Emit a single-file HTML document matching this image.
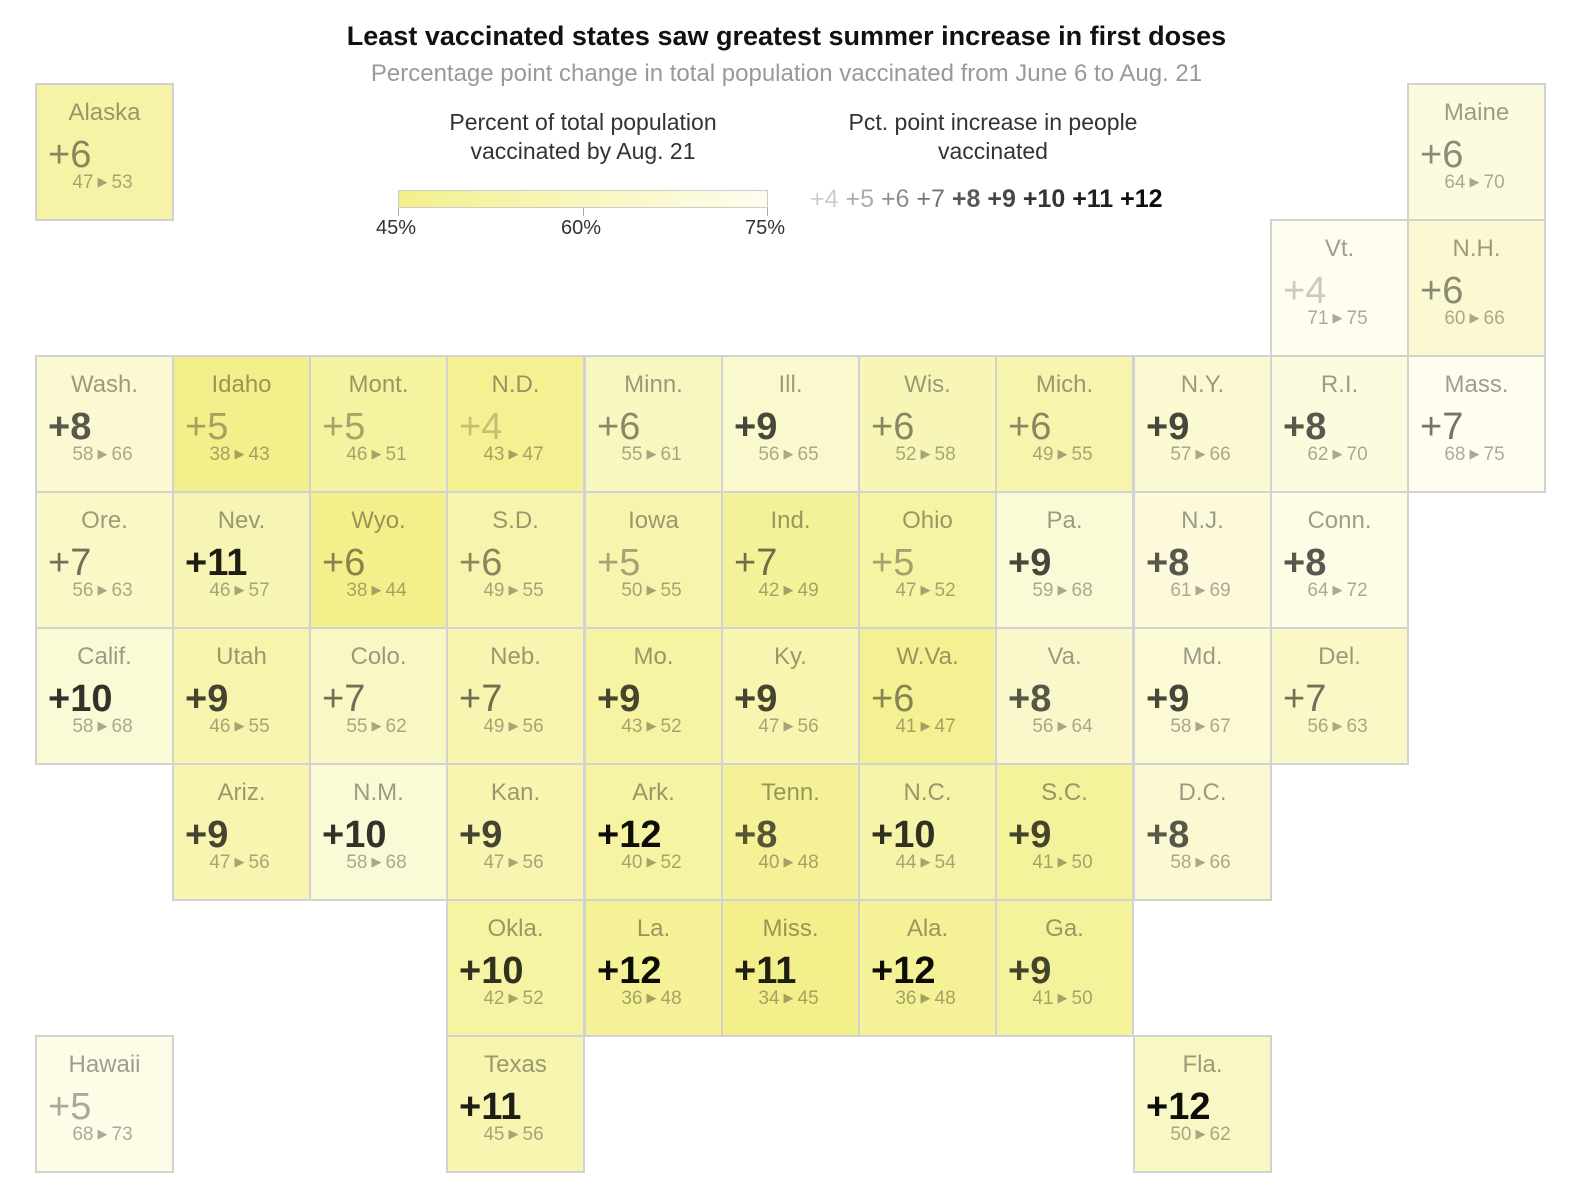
<!DOCTYPE html>
<html><head><meta charset="utf-8"><style>
body{margin:0;background:#fff;width:1573px;height:1200px;position:relative;overflow:hidden;font-family:"Liberation Sans",sans-serif}
.t{position:absolute;left:0;width:1573px;text-align:center}
.c{position:absolute;width:139px;height:138px;border:2px solid #d2d2d2;box-sizing:border-box}
.n{position:absolute;left:0;right:0;top:14px;text-align:center;font-size:24px;color:rgba(0,0,0,0.38);white-space:nowrap}
.v{position:absolute;left:11px;top:48px;font-size:38px;line-height:44px;white-space:nowrap}
.r{position:absolute;left:-4px;right:0;top:87px;text-align:center;font-size:19px;color:rgba(0,0,0,0.33);white-space:nowrap}
.r span{font-size:13px;vertical-align:2px;margin:0 4px}
.i4{color:rgba(0,0,0,0.2)}.i5{color:rgba(0,0,0,0.33)}.i6{color:rgba(0,0,0,0.45)}.i7{color:rgba(0,0,0,0.55)}
.i8{color:rgba(0,0,0,0.65);font-weight:bold}.i9{color:rgba(0,0,0,0.72);font-weight:bold}.i10{color:rgba(0,0,0,0.8);font-weight:bold}.i11{color:rgba(0,0,0,0.88);font-weight:bold}.i12{color:rgba(0,0,0,0.95);font-weight:bold}
.lg{position:absolute;text-align:center;font-size:23px;line-height:29px;color:#333}
.tk{position:absolute;top:217px;font-size:20px;color:#333}
</style></head><body>
<div class="t" style="top:21px;font-size:27px;font-weight:bold;color:#111">Least vaccinated states saw greatest summer increase in first doses</div>
<div class="t" style="top:60px;font-size:24px;color:#999">Percentage point change in total population vaccinated from June 6 to Aug. 21</div>
<div class="lg" style="left:403px;width:360px;top:108px">Percent of total population<br>vaccinated by Aug. 21</div>
<div class="lg" style="left:813px;width:360px;top:108px">Pct. point increase in people<br>vaccinated</div>
<div style="position:absolute;left:398px;top:190px;width:370px;height:18px;border:1px solid #ccc;box-sizing:border-box;background:linear-gradient(to right,#f3f08c,#fefdee)"></div>
<div style="position:absolute;left:398px;top:208px;width:1px;height:8px;background:#aaa"></div>
<div style="position:absolute;left:583px;top:208px;width:1px;height:8px;background:#aaa"></div>
<div style="position:absolute;left:767px;top:208px;width:1px;height:8px;background:#aaa"></div>
<div class="tk" style="left:376px">45%</div><div class="tk" style="left:561px">60%</div><div class="tk" style="left:745px">75%</div>
<div style="position:absolute;left:810px;top:185px;font-size:25px;white-space:nowrap"><span class="i4">+4</span> <span class="i5">+5</span> <span class="i6">+6</span> <span class="i7">+7</span> <span class="i8">+8</span> <span class="i9">+9</span> <span class="i10">+10</span> <span class="i11">+11</span> <span class="i12">+12</span></div>

<div class="c" style="left:35px;top:83px;background:rgb(246,243,166)"><div class="n">Alaska</div><div class="v i6">+6</div><div class="r">47<span>▶</span>53</div></div>
<div class="c" style="left:1407px;top:83px;background:rgb(252,251,222)"><div class="n">Maine</div><div class="v i6">+6</div><div class="r">64<span>▶</span>70</div></div>
<div class="c" style="left:1270px;top:219px;background:rgb(254,253,238)"><div class="n">Vt.</div><div class="v i4">+4</div><div class="r">71<span>▶</span>75</div></div>
<div class="c" style="left:1407px;top:219px;background:rgb(251,249,209)"><div class="n">N.H.</div><div class="v i6">+6</div><div class="r">60<span>▶</span>66</div></div>

<div class="c" style="left:35px;top:355px;background:rgb(251,249,209)"><div class="n">Wash.</div><div class="v i8">+8</div><div class="r">58<span>▶</span>66</div></div>
<div class="c" style="left:172px;top:355px;background:rgb(243,240,140)"><div class="n">Idaho</div><div class="v i5">+5</div><div class="r">38<span>▶</span>43</div></div>
<div class="c" style="left:309px;top:355px;background:rgb(245,243,160)"><div class="n">Mont.</div><div class="v i5">+5</div><div class="r">46<span>▶</span>51</div></div>
<div class="c" style="left:446px;top:355px;background:rgb(244,241,147)"><div class="n">N.D.</div><div class="v i4">+4</div><div class="r">43<span>▶</span>47</div></div>
<div class="c" style="left:584px;top:355px;background:rgb(249,247,192)"><div class="n">Minn.</div><div class="v i6">+6</div><div class="r">55<span>▶</span>61</div></div>
<div class="c" style="left:721px;top:355px;background:rgb(250,249,205)"><div class="n">Ill.</div><div class="v i9">+9</div><div class="r">56<span>▶</span>65</div></div>
<div class="c" style="left:858px;top:355px;background:rgb(248,246,182)"><div class="n">Wis.</div><div class="v i6">+6</div><div class="r">52<span>▶</span>58</div></div>
<div class="c" style="left:995px;top:355px;background:rgb(247,244,173)"><div class="n">Mich.</div><div class="v i6">+6</div><div class="r">49<span>▶</span>55</div></div>
<div class="c" style="left:1133px;top:355px;background:rgb(251,249,209)"><div class="n">N.Y.</div><div class="v i9">+9</div><div class="r">57<span>▶</span>66</div></div>
<div class="c" style="left:1270px;top:355px;background:rgb(252,251,222)"><div class="n">R.I.</div><div class="v i8">+8</div><div class="r">62<span>▶</span>70</div></div>
<div class="c" style="left:1407px;top:355px;background:rgb(254,253,238)"><div class="n">Mass.</div><div class="v i7">+7</div><div class="r">68<span>▶</span>75</div></div>

<div class="c" style="left:35px;top:491px;background:rgb(250,248,199)"><div class="n">Ore.</div><div class="v i7">+7</div><div class="r">56<span>▶</span>63</div></div>
<div class="c" style="left:172px;top:491px;background:rgb(247,245,179)"><div class="n">Nev.</div><div class="v i11">+11</div><div class="r">46<span>▶</span>57</div></div>
<div class="c" style="left:309px;top:491px;background:rgb(243,240,140)"><div class="n">Wyo.</div><div class="v i6">+6</div><div class="r">38<span>▶</span>44</div></div>
<div class="c" style="left:446px;top:491px;background:rgb(247,244,173)"><div class="n">S.D.</div><div class="v i6">+6</div><div class="r">49<span>▶</span>55</div></div>
<div class="c" style="left:584px;top:491px;background:rgb(247,244,173)"><div class="n">Iowa</div><div class="v i5">+5</div><div class="r">50<span>▶</span>55</div></div>
<div class="c" style="left:721px;top:491px;background:rgb(244,242,153)"><div class="n">Ind.</div><div class="v i7">+7</div><div class="r">42<span>▶</span>49</div></div>
<div class="c" style="left:858px;top:491px;background:rgb(246,243,163)"><div class="n">Ohio</div><div class="v i5">+5</div><div class="r">47<span>▶</span>52</div></div>
<div class="c" style="left:995px;top:491px;background:rgb(251,250,215)"><div class="n">Pa.</div><div class="v i9">+9</div><div class="r">59<span>▶</span>68</div></div>
<div class="c" style="left:1133px;top:491px;background:rgb(252,250,218)"><div class="n">N.J.</div><div class="v i8">+8</div><div class="r">61<span>▶</span>69</div></div>
<div class="c" style="left:1270px;top:491px;background:rgb(253,252,228)"><div class="n">Conn.</div><div class="v i8">+8</div><div class="r">64<span>▶</span>72</div></div>

<div class="c" style="left:35px;top:627px;background:rgb(251,250,215)"><div class="n">Calif.</div><div class="v i10">+10</div><div class="r">58<span>▶</span>68</div></div>
<div class="c" style="left:172px;top:627px;background:rgb(247,244,173)"><div class="n">Utah</div><div class="v i9">+9</div><div class="r">46<span>▶</span>55</div></div>
<div class="c" style="left:309px;top:627px;background:rgb(249,247,196)"><div class="n">Colo.</div><div class="v i7">+7</div><div class="r">55<span>▶</span>62</div></div>
<div class="c" style="left:446px;top:627px;background:rgb(247,245,176)"><div class="n">Neb.</div><div class="v i7">+7</div><div class="r">49<span>▶</span>56</div></div>
<div class="c" style="left:584px;top:627px;background:rgb(246,243,163)"><div class="n">Mo.</div><div class="v i9">+9</div><div class="r">43<span>▶</span>52</div></div>
<div class="c" style="left:721px;top:627px;background:rgb(247,245,176)"><div class="n">Ky.</div><div class="v i9">+9</div><div class="r">47<span>▶</span>56</div></div>
<div class="c" style="left:858px;top:627px;background:rgb(244,241,147)"><div class="n">W.Va.</div><div class="v i6">+6</div><div class="r">41<span>▶</span>47</div></div>
<div class="c" style="left:995px;top:627px;background:rgb(250,248,202)"><div class="n">Va.</div><div class="v i8">+8</div><div class="r">56<span>▶</span>64</div></div>
<div class="c" style="left:1133px;top:627px;background:rgb(251,250,212)"><div class="n">Md.</div><div class="v i9">+9</div><div class="r">58<span>▶</span>67</div></div>
<div class="c" style="left:1270px;top:627px;background:rgb(250,248,199)"><div class="n">Del.</div><div class="v i7">+7</div><div class="r">56<span>▶</span>63</div></div>

<div class="c" style="left:172px;top:763px;background:rgb(247,245,176)"><div class="n">Ariz.</div><div class="v i9">+9</div><div class="r">47<span>▶</span>56</div></div>
<div class="c" style="left:309px;top:763px;background:rgb(251,250,215)"><div class="n">N.M.</div><div class="v i10">+10</div><div class="r">58<span>▶</span>68</div></div>
<div class="c" style="left:446px;top:763px;background:rgb(247,245,176)"><div class="n">Kan.</div><div class="v i9">+9</div><div class="r">47<span>▶</span>56</div></div>
<div class="c" style="left:584px;top:763px;background:rgb(246,243,163)"><div class="n">Ark.</div><div class="v i12">+12</div><div class="r">40<span>▶</span>52</div></div>
<div class="c" style="left:721px;top:763px;background:rgb(244,241,150)"><div class="n">Tenn.</div><div class="v i8">+8</div><div class="r">40<span>▶</span>48</div></div>
<div class="c" style="left:858px;top:763px;background:rgb(246,244,169)"><div class="n">N.C.</div><div class="v i10">+10</div><div class="r">44<span>▶</span>54</div></div>
<div class="c" style="left:995px;top:763px;background:rgb(245,242,156)"><div class="n">S.C.</div><div class="v i9">+9</div><div class="r">41<span>▶</span>50</div></div>
<div class="c" style="left:1133px;top:763px;background:rgb(251,249,209)"><div class="n">D.C.</div><div class="v i8">+8</div><div class="r">58<span>▶</span>66</div></div>

<div class="c" style="left:446px;top:899px;background:rgb(246,243,163)"><div class="n">Okla.</div><div class="v i10">+10</div><div class="r">42<span>▶</span>52</div></div>
<div class="c" style="left:584px;top:899px;background:rgb(244,241,150)"><div class="n">La.</div><div class="v i12">+12</div><div class="r">36<span>▶</span>48</div></div>
<div class="c" style="left:721px;top:899px;background:rgb(243,240,140)"><div class="n">Miss.</div><div class="v i11">+11</div><div class="r">34<span>▶</span>45</div></div>
<div class="c" style="left:858px;top:899px;background:rgb(244,241,150)"><div class="n">Ala.</div><div class="v i12">+12</div><div class="r">36<span>▶</span>48</div></div>
<div class="c" style="left:995px;top:899px;background:rgb(245,242,156)"><div class="n">Ga.</div><div class="v i9">+9</div><div class="r">41<span>▶</span>50</div></div>

<div class="c" style="left:35px;top:1035px;background:rgb(253,252,231)"><div class="n">Hawaii</div><div class="v i5">+5</div><div class="r">68<span>▶</span>73</div></div>
<div class="c" style="left:446px;top:1035px;background:rgb(247,245,176)"><div class="n">Texas</div><div class="v i11">+11</div><div class="r">45<span>▶</span>56</div></div>
<div class="c" style="left:1133px;top:1035px;background:rgb(249,247,196)"><div class="n">Fla.</div><div class="v i12">+12</div><div class="r">50<span>▶</span>62</div></div>
</body></html>
